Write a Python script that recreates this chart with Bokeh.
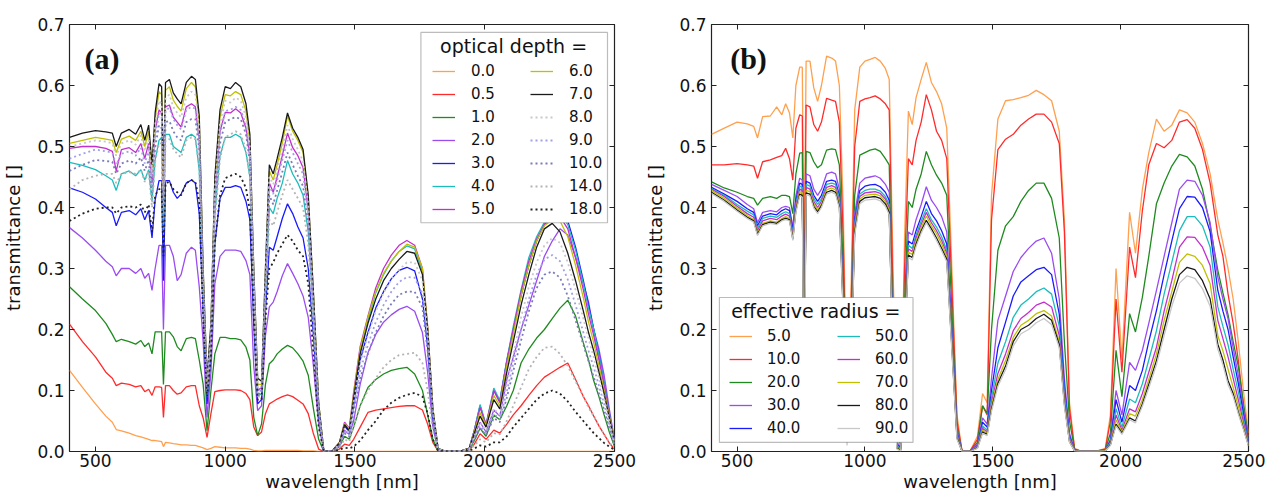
from bokeh.plotting import figure
from bokeh.layouts import row
from bokeh.models import (Range1d, FixedTicker, NumeralTickFormatter, LinearAxis,
                          Legend, LegendItem, Label, BoxAnnotation, CustomJSTickFormatter)
from bokeh.embed import file_html
from bokeh.resources import INLINE

# ---------------- data (transmittance x 1000) ----------------
wavelength = [
    400, 450, 500, 540, 565, 580, 600, 630, 655, 675,
    690, 705, 718, 730, 745, 755, 762, 770, 785, 800,
    815, 830, 850, 870, 885, 900, 915, 930, 945, 960,
    980, 1000, 1020, 1040, 1060, 1080, 1095, 1110, 1125, 1140,
    1155, 1170, 1185, 1200, 1220, 1240, 1260, 1280, 1300, 1320,
    1340, 1360, 1380, 1410, 1440, 1460, 1478, 1495, 1520, 1550,
    1580, 1610, 1640, 1670, 1700, 1730, 1760, 1780, 1800, 1820,
    1850, 1900, 1940, 1960, 1982, 2005, 2035, 2058, 2085, 2110,
    2140, 2170, 2200, 2230, 2260, 2290, 2320, 2350, 2380, 2400,
    2420, 2440, 2460, 2480, 2500,
]

x_ticks = [500, 1000, 1500, 2000, 2500]
y_ticks = [0.0, 0.1, 0.2, 0.3, 0.4, 0.5, 0.6, 0.7]

# panel (a): optical depth
tau_labels = ["0.0", "0.5", "1.0", "2.0", "3.0", "4.0", "5.0",
              "6.0", "7.0", "8.0", "9.0", "10.0", "14.0", "18.0"]

tau_00 = [
    133, 105, 78, 58, 48, 36, 34, 30, 26, 24,
    22, 20, 18, 18, 17, 16, 8, 15, 14, 13,
    12, 11, 11, 10, 10, 8, 6, 3, 5, 8,
    7, 6, 6, 6, 5, 5, 4, 2, 1, 1,
    2, 2, 2, 2, 2, 2, 2, 2, 1, 1,
    1, 0, 0, 0, 0, 0, 0, 0, 0, 0,
    0, 0, 0, 0, 0, 0, 0, 0, 0, 0,
    0, 0, 0, 0, 0, 0, 0, 0, 0, 0,
    0, 0, 0, 0, 0, 0, 0, 0, 0, 0,
    0, 0, 0, 0, 0,
]
tau_05 = [
    209, 180, 155, 130, 120, 108, 112, 110, 106, 108,
    98, 102, 92, 106, 106, 105, 56, 108, 108, 100,
    94, 96, 106, 108, 108, 75, 55, 23, 62, 98,
    100, 101, 101, 101, 100, 95, 85, 40, 26, 32,
    62, 78, 82, 86, 90, 93, 90, 84, 78, 62,
    29, 4, 0, 0, 4, 12, 10, 20, 40, 64,
    68, 70, 72, 74, 75, 75, 68, 45, 15, 1,
    0, 0, 2, 12, 29, 20, 35, 30, 45, 60,
    75, 92, 108, 122, 130, 138, 145, 118, 90, 75,
    58, 42, 28, 14, 4,
]
tau_10 = [
    270, 250, 231, 210, 192, 180, 184, 180, 176, 182,
    172, 178, 160, 196, 196, 196, 110, 196, 196, 188,
    172, 165, 185, 187, 185, 150, 110, 34, 100, 160,
    187, 187, 185, 185, 183, 171, 150, 56, 26, 45,
    110, 144, 150, 160, 168, 174, 170, 160, 148, 125,
    70, 20, 0, 0, 8, 25, 20, 40, 75, 105,
    118, 127, 133, 136, 138, 127, 100, 60, 20, 1,
    0, 0, 3, 18, 38, 25, 60, 52, 75, 100,
    145, 168, 186, 200, 218, 235, 248, 222, 178, 150,
    116, 90, 60, 32, 8,
]
tau_20 = [
    367, 350, 330, 312, 303, 288, 300, 300, 292, 300,
    284, 292, 264, 300, 338, 338, 200, 338, 338, 320,
    280, 290, 325, 335, 330, 270, 180, 56, 130, 275,
    320, 330, 330, 330, 328, 313, 290, 140, 67, 75,
    190, 237, 245, 262, 288, 308, 292, 275, 255, 220,
    140, 45, 0, 0, 10, 35, 28, 50, 110, 162,
    192, 212, 224, 233, 238, 230, 195, 130, 40, 3,
    0, 0, 4, 25, 48, 32, 68, 58, 118, 155,
    200, 240, 280, 320, 345, 365, 355, 318, 275, 245,
    200, 168, 125, 70, 18,
]
tau_30 = [
    432, 425, 414, 400, 392, 370, 392, 395, 388, 398,
    380, 395, 350, 412, 444, 444, 280, 444, 444, 425,
    415, 422, 440, 445, 440, 390, 230, 78, 160, 340,
    415, 433, 433, 436, 433, 410, 380, 210, 78, 85,
    230, 335, 330, 352, 382, 406, 390, 368, 350, 300,
    190, 60, 0, 0, 12, 42, 32, 75, 150, 195,
    235, 262, 283, 297, 302, 296, 250, 170, 55, 4,
    0, 0, 5, 35, 75, 42, 100, 82, 148, 200,
    255, 305, 345, 372, 385, 390, 378, 335, 280, 240,
    200, 160, 112, 62, 17,
]
tau_40 = [
    474, 469, 462, 452, 445, 428, 455, 460, 452, 462,
    445, 462, 410, 478, 510, 515, 360, 520, 520, 500,
    495, 490, 515, 520, 515, 460, 260, 90, 180, 390,
    485, 515, 515, 520, 515, 490, 450, 250, 90, 95,
    260, 400, 390, 415, 440, 477, 455, 440, 420, 360,
    225, 70, 0, 0, 14, 46, 36, 90, 165, 215,
    260, 290, 312, 328, 337, 332, 295, 200, 65, 5,
    0, 0, 5, 35, 77, 44, 104, 84, 150, 205,
    265, 318, 352, 376, 388, 390, 372, 330, 275, 235,
    200, 158, 112, 62, 17,
]
tau_50 = [
    497, 500, 500, 497, 492, 460, 495, 498, 490, 505,
    480, 505, 440, 525, 560, 555, 400, 565, 568, 548,
    540, 532, 565, 570, 565, 510, 280, 100, 190, 420,
    525, 556, 555, 562, 555, 530, 482, 275, 100, 105,
    280, 440, 425, 450, 485, 522, 498, 485, 465, 395,
    245, 75, 0, 0, 15, 48, 38, 98, 172, 222,
    268, 300, 322, 338, 346, 338, 300, 205, 70, 5,
    0, 0, 5, 34, 72, 44, 100, 80, 148, 200,
    262, 312, 348, 372, 382, 385, 365, 318, 265, 225,
    190, 150, 108, 60, 16,
]
tau_60 = [
    505, 510, 515, 512, 510, 490, 512, 517, 510, 525,
    500, 525, 460, 545, 590, 585, 430, 592, 598, 576,
    566, 558, 595, 605, 598, 540, 290, 110, 200, 440,
    548, 585, 583, 590, 585, 558, 508, 290, 110, 110,
    290, 460, 445, 470, 505, 550, 525, 510, 490, 415,
    255, 80, 0, 0, 15, 46, 37, 94, 168, 220,
    262, 292, 312, 328, 340, 335, 300, 205, 72, 5,
    0, 0, 5, 32, 64, 42, 92, 75, 140, 192,
    255, 305, 345, 370, 380, 378, 352, 305, 252, 212,
    178, 140, 100, 58, 16,
]
tau_70 = [
    515, 522, 526, 524, 522, 500, 522, 528, 520, 536,
    510, 535, 470, 555, 603, 598, 450, 605, 610, 588,
    578, 570, 605, 615, 610, 550, 300, 120, 210, 450,
    560, 598, 595, 605, 598, 570, 520, 300, 120, 115,
    300, 470, 455, 480, 515, 555, 530, 515, 495, 420,
    260, 80, 0, 0, 14, 44, 34, 88, 160, 210,
    250, 280, 300, 315, 328, 325, 290, 200, 70, 5,
    0, 0, 5, 30, 58, 40, 85, 70, 130, 180,
    240, 290, 335, 365, 374, 360, 325, 280, 230, 195,
    165, 130, 95, 55, 15,
]
tau_80 = [
    500, 505, 510, 508, 505, 485, 505, 510, 503, 518,
    492, 515, 450, 535, 575, 570, 420, 580, 585, 565,
    555, 548, 580, 590, 585, 530, 285, 110, 195, 430,
    538, 575, 572, 580, 575, 548, 500, 285, 105, 105,
    285, 450, 438, 460, 495, 535, 512, 495, 475, 405,
    245, 75, 0, 0, 12, 38, 30, 80, 145, 190,
    230, 260, 282, 298, 310, 310, 280, 195, 68, 5,
    0, 0, 4, 25, 48, 34, 70, 60, 110, 160,
    220, 270, 310, 338, 350, 342, 310, 265, 218, 185,
    155, 120, 88, 50, 14,
]
tau_90 = [
    480, 488, 495, 492, 490, 470, 488, 492, 485, 498,
    472, 495, 432, 515, 555, 550, 400, 560, 563, 545,
    535, 528, 560, 565, 562, 512, 275, 105, 185, 415,
    520, 558, 560, 565, 560, 535, 488, 278, 100, 100,
    278, 435, 422, 445, 478, 510, 490, 472, 455, 390,
    235, 70, 0, 0, 10, 34, 27, 72, 132, 175,
    212, 240, 262, 278, 286, 285, 258, 180, 62, 4,
    0, 0, 4, 22, 42, 30, 62, 53, 98, 145,
    200, 250, 290, 315, 322, 312, 282, 240, 195, 165,
    138, 108, 78, 44, 12,
]
tau_100 = [
    460, 470, 478, 476, 475, 455, 472, 477, 472, 482,
    460, 478, 418, 498, 535, 530, 385, 540, 542, 525,
    515, 510, 540, 545, 545, 495, 265, 100, 180, 400,
    505, 540, 545, 548, 545, 520, 475, 270, 95, 95,
    270, 420, 405, 428, 458, 490, 470, 452, 435, 372,
    225, 68, 0, 0, 9, 30, 24, 65, 120, 160,
    195, 222, 242, 257, 262, 262, 236, 165, 56, 4,
    0, 0, 3, 20, 38, 27, 55, 48, 88, 132,
    182, 230, 268, 290, 295, 285, 255, 215, 175, 148,
    122, 95, 68, 38, 10,
]
tau_140 = [
    430, 445, 452, 455, 455, 440, 455, 458, 455, 462,
    442, 460, 400, 475, 505, 505, 360, 510, 512, 496,
    488, 482, 510, 515, 512, 470, 250, 95, 170, 380,
    480, 515, 520, 525, 520, 495, 450, 255, 90, 90,
    250, 380, 370, 392, 420, 445, 430, 415, 400, 340,
    200, 55, 0, 0, 6, 20, 16, 42, 75, 100,
    120, 138, 150, 158, 160, 162, 145, 100, 34, 2,
    0, 0, 2, 10, 20, 15, 30, 28, 50, 75,
    105, 135, 155, 170, 172, 160, 140, 115, 90, 72,
    58, 42, 28, 15, 5,
]
tau_180 = [
    378, 390, 398, 400, 400, 390, 400, 402, 400, 405,
    392, 405, 360, 420, 430, 430, 320, 440, 442, 430,
    425, 420, 440, 445, 442, 410, 220, 90, 155, 340,
    420, 448, 452, 455, 450, 432, 395, 220, 85, 85,
    215, 300, 310, 325, 340, 355, 345, 330, 320, 275,
    160, 40, 0, 0, 3, 6, 5, 8, 18, 35,
    50, 68, 80, 88, 93, 96, 90, 62, 20, 1,
    0, 0, 1, 5, 10, 8, 15, 15, 25, 40,
    55, 70, 85, 95, 100, 95, 82, 65, 50, 40,
    30, 22, 14, 8, 3,
]

# panel (b): effective radius
reff_labels = ["5.0", "10.0", "20.0", "30.0", "40.0",
               "50.0", "60.0", "70.0", "80.0", "90.0"]

reff_05 = [
    520, 530, 540, 537, 533, 514, 549, 550, 565, 552,
    570, 555, 514, 600, 630, 630, 300, 640, 640, 596,
    574, 600, 648, 645, 640, 600, 400, 80, 250, 560,
    630, 640, 643, 646, 640, 628, 610, 300, 30, 20,
    350, 558, 536, 580, 610, 638, 605, 590, 570, 530,
    300, 60, 0, 0, 25, 95, 80, 420, 545, 575,
    577, 580, 584, 592, 585, 575, 525, 380, 80, 5,
    0, 0, 5, 60, 300, 150, 392, 325, 430, 490,
    545, 525, 535, 560, 555, 540, 505, 455, 380, 342,
    300, 250, 180, 100, 30,
]
reff_10 = [
    470, 470, 472, 470, 468, 448, 475, 478, 482, 485,
    497, 480, 445, 530, 552, 550, 250, 568, 565, 536,
    525, 540, 579, 576, 574, 540, 350, 60, 220, 500,
    574, 578, 580, 583, 578, 570, 560, 250, 25, 15,
    300, 480, 470, 510, 540, 585, 560, 525, 510, 480,
    270, 50, 0, 0, 20, 75, 60, 380, 495, 512,
    520, 535, 545, 553, 553, 540, 505, 360, 70, 4,
    0, 0, 4, 50, 250, 130, 335, 285, 395, 470,
    505, 498, 510, 540, 544, 530, 495, 440, 355, 320,
    258, 210, 150, 75, 25,
]
reff_20 = [
    442, 432, 425, 418, 415, 404, 415, 418, 415, 420,
    420, 418, 390, 455, 489, 490, 200, 492, 490, 475,
    465, 470, 494, 496, 495, 470, 300, 50, 180, 420,
    486, 490, 494, 496, 492, 480, 470, 200, 20, 12,
    240, 410, 400, 430, 455, 492, 470, 453, 440, 420,
    230, 40, 0, 0, 15, 75, 62, 200, 330, 370,
    385, 410, 428, 440, 440, 415, 350, 180, 50, 3,
    0, 0, 3, 30, 166, 90, 226, 196, 253, 320,
    406, 440, 468, 487, 483, 468, 430, 370, 297, 260,
    224, 180, 140, 80, 20,
]
reff_30 = [
    438, 428, 418, 405, 398, 375, 392, 395, 393, 400,
    402, 400, 368, 420, 448, 445, 150, 455, 452, 430,
    420, 430, 455, 458, 455, 430, 260, 40, 160, 390,
    440, 448, 450, 452, 448, 438, 425, 170, 15, 8,
    200, 360, 355, 380, 405, 434, 412, 400, 385, 360,
    200, 35, 0, 0, 12, 55, 45, 120, 215, 255,
    295, 318, 333, 345, 350, 325, 250, 120, 30, 2,
    0, 0, 2, 20, 100, 60, 146, 133, 166, 210,
    264, 320, 375, 430, 445, 443, 420, 375, 286, 250,
    218, 170, 125, 70, 18,
]
reff_40 = [
    433, 422, 410, 398, 392, 370, 386, 390, 388, 395,
    398, 395, 362, 412, 440, 438, 130, 443, 440, 420,
    410, 420, 443, 445, 443, 420, 250, 35, 150, 380,
    428, 435, 437, 438, 434, 425, 412, 160, 12, 6,
    190, 345, 340, 362, 385, 410, 390, 378, 362, 340,
    190, 30, 0, 0, 10, 48, 40, 100, 170, 212,
    255, 278, 288, 298, 302, 290, 225, 105, 25, 2,
    0, 0, 2, 17, 85, 48, 108, 100, 133, 180,
    231, 290, 345, 398, 418, 417, 400, 360, 264, 230,
    200, 155, 112, 62, 15,
]
reff_50 = [
    431, 420, 405, 394, 388, 366, 382, 386, 384, 390,
    393, 390, 357, 406, 435, 433, 120, 438, 435, 415,
    405, 414, 438, 440, 438, 415, 245, 30, 145, 375,
    422, 428, 430, 430, 427, 418, 405, 155, 10, 5,
    185, 338, 333, 355, 378, 398, 380, 368, 352, 330,
    185, 28, 0, 0, 9, 42, 35, 88, 145, 180,
    220, 240, 250, 262, 268, 258, 205, 95, 22, 2,
    0, 0, 2, 15, 70, 40, 86, 80, 111, 150,
    198, 258, 310, 362, 385, 385, 370, 335, 237, 205,
    175, 135, 98, 55, 13,
]
reff_60 = [
    430, 418, 402, 390, 384, 362, 378, 382, 380, 386,
    389, 386, 353, 402, 430, 428, 110, 433, 430, 410,
    400, 410, 433, 436, 433, 410, 240, 25, 140, 370,
    418, 424, 425, 426, 423, 414, 400, 150, 8, 4,
    180, 332, 328, 350, 372, 392, 375, 362, 346, 325,
    180, 26, 0, 0, 8, 38, 32, 80, 128, 160,
    198, 218, 228, 240, 245, 237, 190, 88, 20, 2,
    0, 0, 2, 13, 60, 35, 70, 65, 95, 130,
    171, 230, 280, 335, 352, 351, 335, 305, 215, 185,
    155, 120, 85, 48, 12,
]
reff_70 = [
    428, 415, 399, 387, 380, 358, 374, 378, 376, 382,
    385, 382, 350, 398, 426, 424, 100, 428, 426, 406,
    396, 406, 429, 432, 429, 406, 235, 20, 135, 365,
    414, 420, 421, 422, 419, 410, 396, 145, 6, 3,
    175, 327, 323, 345, 367, 386, 370, 357, 340, 320,
    175, 24, 0, 0, 7, 35, 30, 75, 118, 149,
    187, 207, 215, 226, 231, 222, 180, 82, 18, 1,
    0, 0, 2, 12, 52, 32, 62, 58, 85, 118,
    160, 215, 262, 310, 324, 320, 305, 275, 190, 165,
    135, 105, 75, 42, 11,
]
reff_80 = [
    425, 412, 396, 384, 378, 356, 372, 376, 374, 380,
    382, 380, 348, 395, 422, 420, 90, 424, 422, 402,
    393, 403, 425, 428, 425, 402, 230, 15, 130, 360,
    410, 416, 417, 418, 415, 406, 392, 140, 5, 2,
    170, 322, 318, 340, 362, 379, 365, 350, 333, 315,
    170, 22, 0, 0, 6, 32, 28, 70, 112, 140,
    180, 200, 207, 218, 225, 215, 175, 78, 16, 1,
    0, 0, 1, 11, 45, 30, 55, 50, 78, 110,
    149, 200, 250, 290, 302, 298, 280, 250, 176, 150,
    116, 95, 65, 38, 10,
]
reff_90 = [
    423, 410, 394, 382, 376, 354, 370, 374, 372, 378,
    380, 378, 346, 392, 419, 417, 40, 421, 419, 399,
    390, 400, 422, 425, 422, 399, 225, 10, 125, 355,
    406, 412, 413, 414, 411, 402, 388, 135, 4, 1,
    165, 318, 314, 336, 358, 375, 361, 346, 329, 311,
    165, 20, 0, 0, 5, 30, 26, 66, 107, 134,
    173, 193, 200, 211, 218, 208, 170, 74, 15, 1,
    0, 0, 1, 10, 42, 28, 52, 47, 74, 104,
    142, 190, 238, 276, 288, 284, 267, 238, 168, 142,
    110, 90, 62, 36, 9,
]

tau_series = [tau_00, tau_05, tau_10, tau_20, tau_30, tau_40, tau_50,
              tau_60, tau_70, tau_80, tau_90, tau_100, tau_140, tau_180]
reff_series = [reff_05, reff_10, reff_20, reff_30, reff_40,
               reff_50, reff_60, reff_70, reff_80, reff_90]

# ---------------- styles ----------------
ORANGE, RED, GREEN, PURPLE, BLUE = "#ffa04e", "#ff2b2b", "#1f8a1f", "#9a4cf0", "#1a1aff"
CYAN, MAGENTA, YELLOW, BLACK, LGRAY = "#1cbcbc", "#c22fcc", "#c0c000", "#1a1a1a", "#c8c8c8"

tau_styles = [
    (ORANGE, "solid"), (RED, "solid"), (GREEN, "solid"), (PURPLE, "solid"),
    (BLUE, "solid"), (CYAN, "solid"), (MAGENTA, "solid"), (YELLOW, "solid"),
    (BLACK, "solid"), ("#c8c8c8", "dotted"), ("#a0a0e6", "dotted"),
    ("#7a7ab8", "dotted"), ("#b4b4b4", "dotted"), ("#222222", "dotted"),
]
reff_colors = [ORANGE, RED, GREEN, PURPLE, BLUE, CYAN, MAGENTA, YELLOW, BLACK, LGRAY]

FONT = "DejaVu Sans"
FRAME = "#222222"


def make_fig(width, left_border, right_border):
    p = figure(width=width, height=494, output_backend="svg", toolbar_location=None,
               x_range=Range1d(400, 2500), y_range=Range1d(0, 0.7),
               min_border_left=left_border, min_border_right=right_border,
               min_border_top=24, min_border_bottom=43)
    p.grid.visible = False
    p.outline_line_color = FRAME
    p.outline_line_width = 1.2
    p.background_fill_color = "white"
    p.border_fill_color = "white"

    xa, ya = p.xaxis[0], p.yaxis[0]
    xa.ticker = FixedTicker(ticks=x_ticks)
    ya.ticker = FixedTicker(ticks=y_ticks)
    ya.formatter = NumeralTickFormatter(format="0.0")
    for ax in (xa, ya):
        ax.axis_line_color = None
        ax.major_tick_in = 5
        ax.major_tick_out = 0
        ax.minor_tick_in = 0
        ax.minor_tick_out = 0
        ax.major_tick_line_color = FRAME
        ax.major_label_text_font = FONT
        ax.major_label_text_font_size = "17px"
        ax.major_label_text_color = "#111111"
        ax.axis_label_text_font = FONT
        ax.axis_label_text_font_size = "18px"
        ax.axis_label_text_font_style = "normal"
        ax.axis_label_text_color = "#111111"
    xa.axis_label = "wavelength [nm]"
    ya.axis_label = "transmittance []"
    xa.major_label_standoff = 2
    xa.axis_label_standoff = 1
    ya.major_label_standoff = 5
    ya.axis_label_standoff = 10

    blank = CustomJSTickFormatter(code="return ''")
    top = LinearAxis(ticker=FixedTicker(ticks=x_ticks), formatter=blank)
    right = LinearAxis(ticker=FixedTicker(ticks=y_ticks), formatter=blank)
    for ax in (top, right):
        ax.axis_line_color = None
        ax.major_tick_in = 5
        ax.major_tick_out = 0
        ax.minor_tick_in = 0
        ax.minor_tick_out = 0
        ax.major_tick_line_color = FRAME
        ax.major_label_text_font_size = "0px"
        ax.major_label_standoff = 0
    p.add_layout(top, "above")
    p.add_layout(right, "right")
    return p


def add_legend(p, renderers, labels, loc, label_width, standoff):
    items = [LegendItem(label=l, renderers=[r]) for l, r in zip(labels, renderers)]
    leg = Legend(items=items, ncols=2, location=loc, orientation="vertical",
                 border_line_color=None, background_fill_alpha=0,
                 padding=0, margin=0, spacing=3,
                 glyph_width=23, glyph_height=20, label_height=20,
                 label_width=label_width, label_standoff=standoff,
                 label_text_font=FONT, label_text_font_size="15px",
                 label_text_color="#111111")
    p.add_layout(leg)


# ---------------- panel (a) ----------------
pa = make_fig(642, 68, 28)
rs_a = []
for vals, (col, dash) in zip(tau_series, tau_styles):
    y = [v / 1000 for v in vals]
    if dash == "solid":
        r = pa.line(wavelength, y, line_color=col, line_width=1.3)
    else:
        r = pa.line(wavelength, y, line_color=col, line_width=1.8, line_dash="2 3")
    rs_a.append(r)

pa.add_layout(BoxAnnotation(left=1754, right=2473, bottom=0.375, top=0.687,
                            fill_color="white", fill_alpha=1.0,
                            line_color=FRAME, line_width=1.2))
add_legend(pa, rs_a, tau_labels, (363, 232), 56, 16)
pa.add_layout(Label(x=2111, y=0.664, text="optical depth =", text_align="center",
                    text_baseline="middle", text_font=FONT, text_font_size="19px",
                    text_color="#111111"))
pa.add_layout(Label(x=458, y=0.644, text="(a)", text_align="left", text_baseline="middle",
                    text_font="Liberation Serif", text_font_style="bold",
                    text_font_size="30px", text_color="#111111"))

# ---------------- panel (b) ----------------
pb = make_fig(623, 60, 17)
rs_b = []
for vals, col in zip(reff_series, reff_colors):
    y = [v / 1000 for v in vals]
    rs_b.append(pb.line(wavelength, y, line_color=col, line_width=1.3))

pb.add_layout(BoxAnnotation(left=431, right=1188, bottom=0.0148, top=0.2525,
                            fill_color="white", fill_alpha=1.0,
                            line_color=FRAME, line_width=1.2))
add_legend(pb, rs_b, reff_labels, (18, 13), 67, 15)
pb.add_layout(Label(x=808, y=0.231, text="effective radius =", text_align="center",
                    text_baseline="middle", text_font=FONT, text_font_size="19px",
                    text_color="#111111"))
pb.add_layout(Label(x=473, y=0.644, text="(b)", text_align="left", text_baseline="middle",
                    text_font="Liberation Serif", text_font_style="bold",
                    text_font_size="30px", text_color="#111111"))

layout = row(pa, pb)
open("out.html", "w").write(file_html(layout, INLINE))
